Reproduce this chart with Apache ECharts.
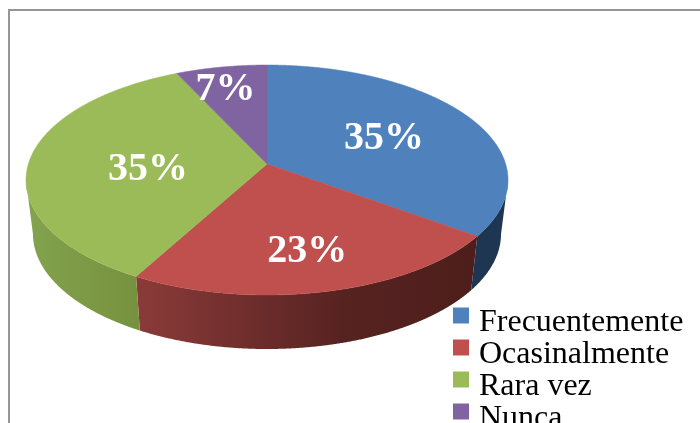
<!DOCTYPE html>
<html><head><meta charset="utf-8">
<style>html,body{margin:0;padding:0;background:#fff;overflow:hidden}#c{width:700px;height:423px}</style>
<script src="https://cdn.jsdelivr.net/npm/echarts@6/dist/echarts.min.js"></script>
</head><body><div id="c"></div>
<script>
const categories = ['Frecuentemente', 'Ocasinalmente', 'Rara vez', 'Nunca'];
const values = [35, 23, 35, 7];
const percentLabels = ['35%', '23%', '35%', '7%'];
const colors = ['#4f81bd', '#c0504d', '#9bbb59', '#8064a2'];

const TOP = {cx: 267, cy: 180, rx: 241, ry: 115};
const BOTTOM = {cx: 267, cy: 234, rx: 234, ry: 115};
const PERSPECTIVE = -0.139;
const labelRadius = [0.57, 0.7, 0.5, 0.8];
const labelShift = [[0, 3], [0, 3], [0, 7], [-4, 5]];
const wallStops = [
  [[0, '#1f3652'], [1, '#1f3652']],
  [[0, '#8b3b39'], [0.6, '#572321'], [1, '#4d1e1b']],
  [[0, '#83a34e'], [1, '#77923f']],
  [[0, '#4c3b61'], [1, '#4c3b61']]
];
const wallRange = [[470, 510], [135, 478], [26, 135], [178, 267]];

const total = values.reduce((a, b) => a + b, 0);
function startOf(i) { return values.slice(0, i).reduce((a, b) => a + b, 0) / total * 2 * Math.PI; }
function endOf(i) { return startOf(i + 1); }
function project(theta, r, e) {
  const x = r * Math.sin(theta), y = -r * Math.cos(theta), a = PERSPECTIVE;
  const d = 1 + a * y;
  return [e.cx + e.rx * x * Math.sqrt(1 - a * a) / d, e.cy + e.ry * (y + a) / d];
}
function arcAngles(i) {
  const a0 = startOf(i), a1 = endOf(i), n = Math.max(2, Math.ceil((a1 - a0) * 240));
  const out = [];
  for (let k = 0; k <= n; k++) out.push(a0 + (a1 - a0) * k / n);
  return out;
}
function renderWall(params) {
  const i = params.dataIndex;
  const front = arcAngles(i).filter(t => project(t, 1, TOP)[1] >= TOP.cy);
  if (front.length < 2) return null;
  const top = front.map(t => project(t, 1, TOP));
  const bottom = front.map(t => project(t, 1, BOTTOM)).reverse();
  const fill = new echarts.graphic.LinearGradient(wallRange[i][0], 0, wallRange[i][1], 0,
    wallStops[i].map(s => ({offset: s[0], color: s[1]})), true);
  return {type: 'polygon', shape: {points: top.concat(bottom)}, style: {fill: fill}};
}
function renderTop(i) {
  return function () {
    const apex = project(0, 0, TOP);
    const mid = (startOf(i) + endOf(i)) / 2;
    const p = project(mid, labelRadius[i], TOP);
    return {type: 'group', children: [
      {type: 'polygon', shape: {points: [apex].concat(arcAngles(i).map(t => project(t, 1, TOP)))},
       style: {fill: colors[i], stroke: colors[i], lineWidth: 0.5}},
      {type: 'text', z2: 10, x: p[0] + labelShift[i][0], y: p[1] + labelShift[i][1],
       style: {text: percentLabels[i], fill: '#fff', font: 'bold 40px "Liberation Serif"',
                align: 'center', verticalAlign: 'middle'}}
    ]};
  };
}
const series = [{
  type: 'custom', name: 'wall', coordinateSystem: 'none', silent: true, z: 1,
  data: values, renderItem: renderWall, animation: false
}];
categories.forEach((name, i) => series.push({
  type: 'custom', name: name, coordinateSystem: 'none', silent: true, z: 2 + i,
  itemStyle: {color: colors[i]}, data: [values[i]], renderItem: renderTop(i), animation: false
}));

const chart = echarts.init(document.getElementById('c'), null, {renderer: 'canvas'});
chart.setOption({
  animation: false,
  backgroundColor: '#fff',
  tooltip: {show: false},
  legend: {
    data: categories, orient: 'vertical', left: 453, top: 299, width: 260, height: 300,
    itemWidth: 16, itemHeight: 16, itemGap: -7.5, padding: 0, icon: 'rect', selectedMode: false,
    formatter: name => '{g|\u00a0}\n{t|' + name + '}',
    textStyle: {
      color: '#000', padding: [0, 0, 0, 5],
      rich: {
        g: {fontSize: 1, lineHeight: 14},
        t: {fontFamily: 'Liberation Serif', fontSize: 32, lineHeight: 32, color: '#000'}
      }
    }
  },
  graphic: [{type: 'rect', silent: true, z: 0, shape: {x: 9, y: 10, width: 800, height: 600},
    style: {fill: 'none', stroke: '#969696', lineWidth: 2}}],
  series: series
});
</script></body></html>
